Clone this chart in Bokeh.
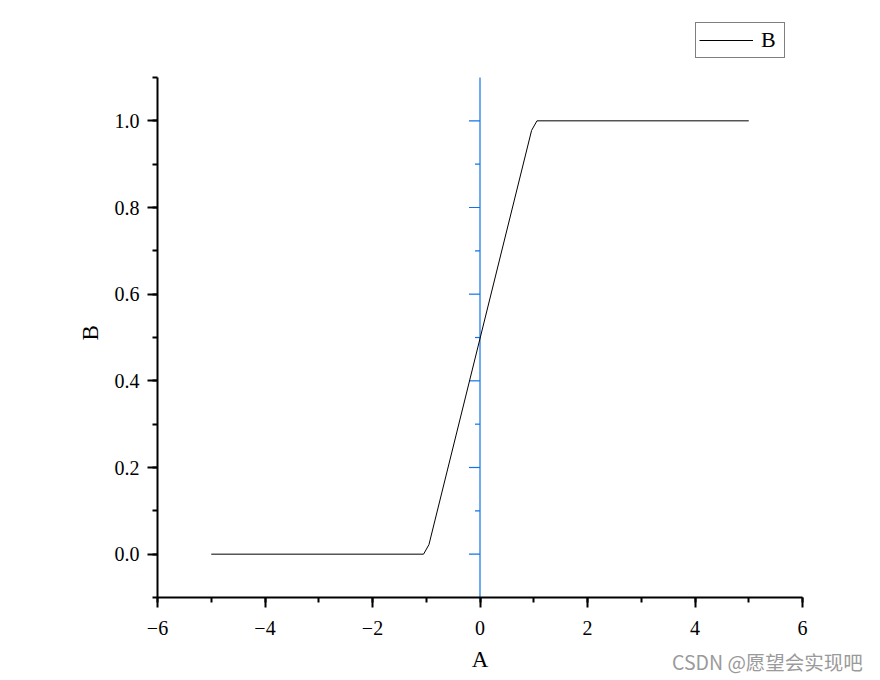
import numpy as np
from bokeh.plotting import figure
from bokeh.layouts import column
from bokeh.models import (ColumnDataSource, Range1d, SingleIntervalTicker,
                          Legend, LegendItem, Div, PrintfTickFormatter)
from bokeh.embed import file_html
from bokeh.resources import INLINE

# data
a_vals = [-5.0, -1.05, -0.95, 0.96, 1.06, 5.0]
b_vals = [0.0, 0.0, 0.022, 0.978, 1.0, 1.0]
x_ticks = [-6, -4, -2, 0, 2, 4, 6]
x_tick_labels = ["\u22126", "\u22124", "\u22122", "0", "2", "4", "6"]
y_major = [0.0, 0.2, 0.4, 0.6, 0.8, 1.0]
y_minor = [0.1, 0.3, 0.5, 0.7, 0.9]
series_name = "B"
x_title = "A"
y_title = "B"
watermark = "CSDN @愿望会实现吧"

SERIF = "Liberation Serif"

# axis extents
X_LO, X_HI = -6, 6
Y_LO, Y_HI = -0.1, 1.1

# layout: axes box 645 x 520 px; frame extended upward to hold the legend
AX_W, AX_H = 645, 520
TOP_EXTRA = 67
px_per_unit = AX_H / (Y_HI - Y_LO)
y_end = Y_HI + TOP_EXTRA / px_per_unit

p = figure(frame_width=AX_W, frame_height=AX_H + TOP_EXTRA,
           min_border_left=157, min_border_right=70, min_border_top=10, min_border_bottom=75,
           x_range=Range1d(X_LO, X_HI), y_range=Range1d(Y_LO, y_end),
           output_backend="svg", toolbar_location=None)
p.outline_line_color = None
p.xgrid.visible = False
p.ygrid.visible = False
p.background_fill_color = "white"
p.border_fill_color = None

for ax in (p.xaxis[0], p.yaxis[0]):
    ax.axis_line_width = 2
    ax.major_tick_line_width = 2
    ax.minor_tick_line_width = 2
    ax.major_tick_in = 0
    ax.minor_tick_in = 0
    ax.major_tick_out = 10
    ax.minor_tick_out = 5
    ax.major_label_text_font = SERIF
    ax.major_label_text_font_size = "20px"
    ax.major_label_text_color = "black"
    ax.axis_label_text_font = SERIF
    ax.axis_label_text_font_size = "23px"
    ax.axis_label_text_font_style = "normal"
    ax.axis_label_text_color = "black"

p.xaxis.ticker = SingleIntervalTicker(interval=2, num_minor_ticks=2)
p.xaxis.major_label_overrides = {t: l for t, l in zip(x_ticks, x_tick_labels)}
p.xaxis.axis_label = x_title
p.xaxis.major_label_standoff = 13
p.xaxis.axis_label_standoff = 9

p.yaxis.ticker = SingleIntervalTicker(interval=0.2, num_minor_ticks=2)
p.yaxis.formatter = PrintfTickFormatter(format="%.1f")
p.yaxis.bounds = (Y_LO, Y_HI)
# the label is centred on the (extended) frame; pad its far end so that it
# sits at the middle of the visible axis
p.yaxis.axis_label = y_title + "\u00a0" * 10
p.yaxis.major_label_standoff = 8
p.yaxis.axis_label_standoff = 9
p.yaxis.major_label_orientation = "horizontal"

# blue axis at x = 0
blue = "#1372E6"
p.segment(x0=[0], y0=[Y_LO], x1=[0], y1=[Y_HI], line_color=blue, line_width=1.2)
p.ray(x=[0] * len(y_major), y=y_major, length=11, length_units="screen",
      angle=np.pi, line_color=blue, line_width=1.2)
p.ray(x=[0] * len(y_minor), y=y_minor, length=5, length_units="screen",
      angle=np.pi, line_color=blue, line_width=1.2)

src = ColumnDataSource(dict(a=a_vals, b=b_vals))
r = p.line("a", "b", source=src, line_color="black", line_width=1)

legend = Legend(items=[LegendItem(label=series_name, renderers=[r])],
                location=(538, 539), border_line_color="black", border_line_width=1,
                padding=3, margin=0, glyph_width=54, glyph_height=28, label_standoff=8,
                label_text_font=SERIF, label_text_font_size="22px",
                label_text_color="black",
                background_fill_alpha=1.0, spacing=0)
p.add_layout(legend, "center")

div = Div(text=watermark, width=208, height=26, margin=(-25, 0, 0, 672),
          styles={"color": "#9a9a9a", "font-family": "Noto Sans CJK SC",
                  "font-size": "19.5px", "line-height": "26px", "white-space": "nowrap"})

layout = column(p, div)
open("out.html", "w").write(file_html(layout, INLINE))
